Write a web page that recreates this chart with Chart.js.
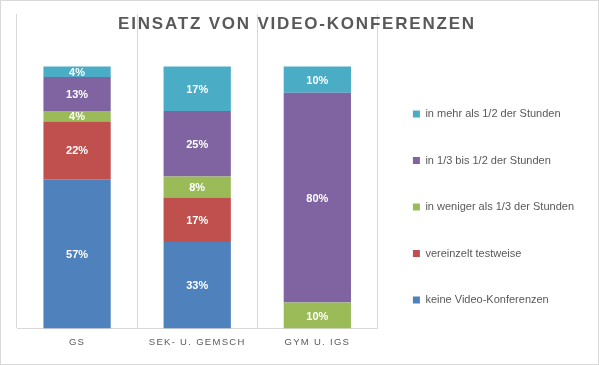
<!DOCTYPE html>
<html>
<head>
<meta charset="utf-8">
<script src="https://cdn.jsdelivr.net/npm/chart.js@4/dist/chart.umd.min.js"></script>
<style>
    html, body { margin: 0; padding: 0; background: #fff; }
    #wrap { width: 599px; height: 365px; }
</style>
</head>
<body>
<div id="wrap"><canvas id="myChart" width="599" height="365"></canvas></div>
<script>
const categories = ['GS', 'SEK- U. GEMSCH', 'GYM U. IGS']

// bottom to top in the stack
const keine = [57, 33, 0]
const vereinzelt = [22, 17, 0]
const weniger = [4, 8, 10]
const drittelBisHalb = [13, 25, 80]
const mehrAlsHalb = [4, 17, 10]

const seriesNames = [
    'keine Video-Konferenzen',
    'vereinzelt testweise',
    'in weniger als 1/3 der Stunden',
    'in 1/3 bis 1/2 der Stunden',
    'in mehr als 1/2 der Stunden'
]
const colors = ['#4F81BD', '#C0504D', '#9BBB59', '#8064A2', '#4BACC6']
const title = 'EINSATZ VON VIDEO-KONFERENZEN'

const grey = '#595959'
const font = "'Liberation Sans', Arial, sans-serif"

const extras = {
    id: 'extras',
    beforeDraw(chart) {
        const ctx = chart.ctx
        ctx.save()
        ctx.fillStyle = '#fff'
        ctx.fillRect(0, 0, chart.width, chart.height)
        ctx.strokeStyle = '#d9d9d9'
        ctx.lineWidth = 1
        ctx.strokeRect(0.5, 0.5, chart.width - 1, chart.height - 1)
        ctx.restore()
    },
    afterDatasetsDraw(chart) {
        const ctx = chart.ctx
        ctx.save()
        ctx.font = 'bold 11px ' + font
        ctx.fillStyle = '#fff'
        ctx.textAlign = 'center'
        ctx.textBaseline = 'middle'
        chart.data.datasets.forEach((ds, i) => {
            chart.getDatasetMeta(i).data.forEach((bar, j) => {
                if (!ds.data[j]) return
                const p = bar.getCenterPoint()
                ctx.fillText(ds.data[j] + '%', p.x, p.y + 1)
            })
        })
        ctx.restore()
        // x tick labels are drawn after this (ticks.z = 1), spaced out
        ctx.letterSpacing = '1.3px'
    },
    afterDraw(chart) {
        const ctx = chart.ctx
        ctx.letterSpacing = '0px'
        ctx.save()
        ctx.letterSpacing = '1.8px'
        ctx.font = 'bold 17px ' + font
        ctx.fillStyle = grey
        ctx.textAlign = 'center'
        ctx.textBaseline = 'middle'
        ctx.fillText(title, 297, 24.5)
        ctx.restore()
    }
}

const seriesData = [keine, vereinzelt, weniger, drittelBisHalb, mehrAlsHalb]

new Chart(document.getElementById('myChart'), {
    type: 'bar',
    data: {
        labels: categories,
        datasets: seriesData.map((d, i) => ({
            label: seriesNames[i],
            data: d,
            backgroundColor: colors[i],
            borderWidth: 0,
            barPercentage: 0.56,
            categoryPercentage: 1
        }))
    },
    options: {
        responsive: false,
        animation: false,
        layout: {
            padding: { left: 17, top: 14, right: 15, bottom: 9 }
        },
        plugins: {
            legend: {
                position: 'right',
                align: 'start',
                reverse: true,
                // empty title only used as spacer above the items
                title: {
                    display: true,
                    text: '',
                    font: { size: 10 },
                    padding: { top: 47, bottom: 0 }
                },
                labels: {
                    boxWidth: 7,
                    boxHeight: 7,
                    padding: 35.5,
                    color: grey,
                    font: { family: font, size: 11 }
                }
            },
            title: { display: false },
            tooltip: { enabled: false }
        },
        scales: {
            x: {
                stacked: true,
                grid: {
                    color: '#d9d9d9',
                    drawTicks: false,
                    offset: true
                },
                border: { color: '#d9d9d9' },
                ticks: {
                    z: 1,
                    color: grey,
                    padding: 8,
                    autoSkip: false,
                    maxRotation: 0,
                    font: { family: font, size: 9.5 }
                }
            },
            y: {
                stacked: true,
                display: false,
                min: 0,
                max: 120
            }
        }
    },
    plugins: [extras]
})
</script>
</body>
</html>
